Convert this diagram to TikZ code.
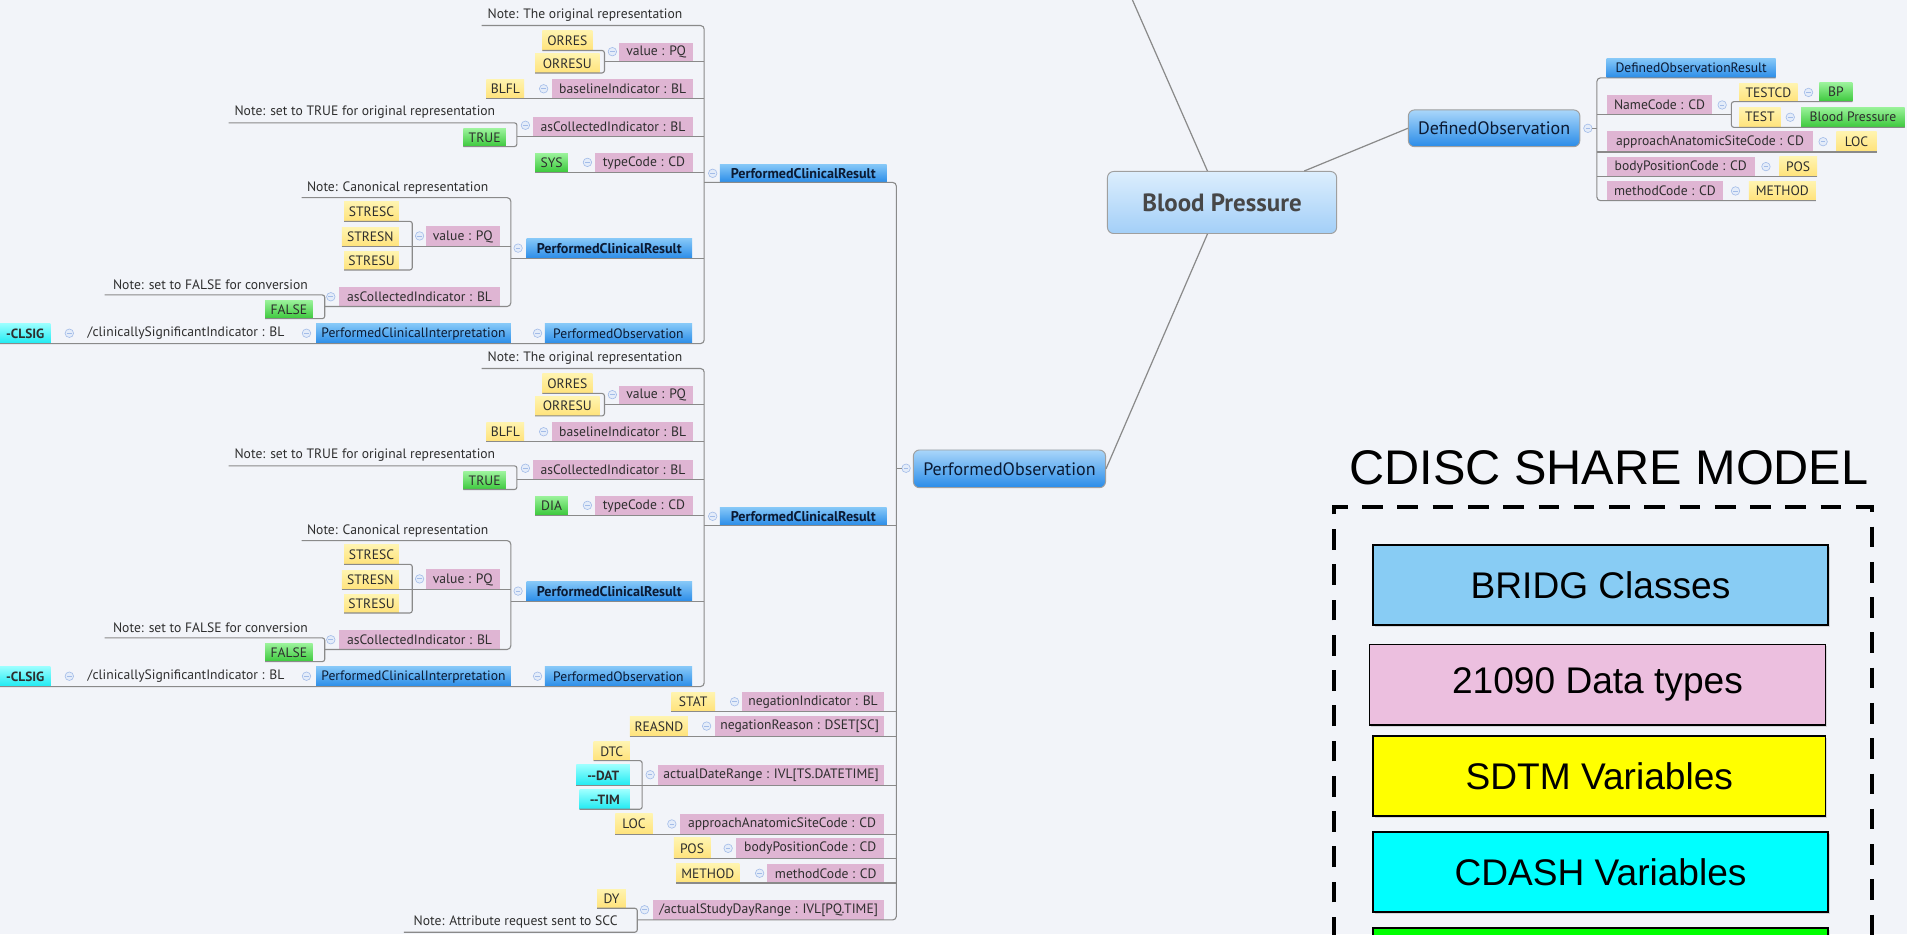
\documentclass[tikz,border=0pt]{standalone}
\usepackage{fontspec}
\setmainfont{PT Sans}
\newfontfamily\legfont{Liberation Sans}
\usetikzlibrary{shadows}
\definecolor{bgc}{HTML}{F2F4F9}
\definecolor{linec}{HTML}{8A8A8A}
\definecolor{txtc}{HTML}{2E2E2E}
\definecolor{navy}{HTML}{0B1A33}
\definecolor{pinkc}{HTML}{DFB5D3}
\definecolor{yel1}{HTML}{FFF4B0}
\definecolor{yel2}{HTML}{FFE27A}
\definecolor{grn1}{HTML}{9AF29A}
\definecolor{grn2}{HTML}{3CC83C}
\definecolor{cy1}{HTML}{9AFFFF}
\definecolor{cy2}{HTML}{1EEAF2}
\definecolor{blu1}{HTML}{86C8F8}
\definecolor{blu2}{HTML}{2A8CE8}
\definecolor{bigtop}{HTML}{A9D6FA}
\definecolor{bptop}{HTML}{DCEEFD}
\definecolor{bpbot}{HTML}{A3CFF8}
\definecolor{mcol}{HTML}{A3BCE8}
\definecolor{mfill}{HTML}{E4ECF9}
\definecolor{lgblue}{HTML}{88CCF4}
\definecolor{lgpink}{HTML}{ECBFDF}
\definecolor{lgyel}{HTML}{FFFF00}
\definecolor{lgcyan}{HTML}{00FFFF}
\definecolor{lggreen}{HTML}{00FF00}
\newcommand\tpbox[7]{%
  \pgfmathsetmacro\tpw{#5-#3}\pgfmathsetmacro\tph{#6-#4}%
  \pgfmathsetmacro\tpx{(#3+#5)/2}\pgfmathsetmacro\tpy{(#4+#6)/2}%
  \node[#1,minimum width=\tpw pt,minimum height=\tph pt] (#2) at (\tpx,\tpy) {#7};}
\newcommand\pcrgroup[3]{%
\begin{scope}[yshift=-#2pt]
\coordinate (#1-b1) at (579,0);
\coordinate (#1-b2) at (497,0);
\coordinate (#1-b3) at (425,0);
\coordinate (#1-b4) at (339,0);
\coordinate (#1-b5) at (420,0);
\coordinate (#1-b6) at (267,0);
\tpbox{notetxt}{#1-note1}{396}{4}{566}{21}{Note: The original representation}
\tpbox{yelbox}{#1-orres}{446}{25}{487}{41.5}{ORRES}
\tpbox{yelbox}{#1-orresu}{440}{44}{493}{60}{ORRESU}
\tpbox{pinkbox}{#1-val1}{509}{35}{570}{50.5}{value : PQ}
\node[mnode] (#1-mval1) at (503.5,42.5) {};
\tpbox{yelbox}{#1-blfl}{400}{65}{431}{81}{BLFL}
\node[mnode] (#1-mbase) at (447,73) {};
\tpbox{pinkbox}{#1-base}{454}{65}{570}{81}{baselineIndicator : BL}
\tpbox{notetxt}{#1-note2}{188}{84}{412}{101}{Note: set to TRUE for original representation}
\tpbox{grnbox}{#1-true}{381}{106}{416}{120.5}{TRUE}
\node[mnode] (#1-masc1) at (432,103) {};
\tpbox{pinkbox}{#1-asc1}{438}{96}{570}{112}{asCollectedIndicator : BL}
\tpbox{grnbox}{#1-sys}{440}{126}{467}{141.5}{#3}
\node[mnode] (#1-mtype) at (483,133.5) {};
\tpbox{pinkbox}{#1-type}{489}{126}{570}{141.5}{typeCode : CD}
\node[mnode] (#1-mpcr) at (586,142.5) {};
\tpbox{pcrbox}{#1-pcr}{592}{135}{729}{150}{PerformedClinicalResult}
\tpbox{notetxt}{#1-note3}{248}{146}{406}{162.5}{Note: Canonical representation}
\tpbox{yelbox}{#1-stresc}{283}{166}{328}{182}{STRESC}
\tpbox{yelbox}{#1-stresn}{281}{187}{328}{203}{STRESN}
\tpbox{yelbox}{#1-stresu}{283}{207}{328}{222}{STRESU}
\node[mnode] (#1-mval2) at (345,194) {};
\tpbox{pinkbox}{#1-val2}{350}{186}{411}{203}{value : PQ}
\node[mnode] (#1-mpcr2) at (426,204) {};
\tpbox{pcrbox}{#1-pcr2}{433}{196}{569}{212.5}{PerformedClinicalResult}
\tpbox{notetxt}{#1-note4}{86}{226}{260}{242.5}{Note: set to FALSE for conversion}
\tpbox{grnbox}{#1-false}{218}{247}{257}{262}{FALSE}
\node[mnode] (#1-masc2) at (272,244) {};
\tpbox{pinkbox}{#1-asc2}{279}{236}{411}{252}{asCollectedIndicator : BL}
\tpbox{cyanbox}{#1-clsig}{0}{266}{41.5}{282.5}{-CLSIG}
\node[mnode] (#1-mclin) at (57,274) {};
\tpbox{notetxt}{#1-clin}{66}{266}{240}{282.5}{/clinicallySignificantIndicator : BL}
\node[mnode] (#1-mpci) at (252,274) {};
\tpbox{bluebox}{#1-pci}{260}{266}{420}{282.5}{PerformedClinicalInterpretation}
\node[mnode] (#1-mpo) at (442,274) {};
\tpbox{bluebox}{#1-po}{448}{266}{569}{282.5}{PerformedObservation}
\draw[conn,rounded corners=3pt] (#1-note1.south west) -- (#1-note1.south west -| #1-b1) -- (#1-po.south west -| #1-b1) -- (#1-clsig.south west);
\draw[conn,rounded corners=2pt] (#1-orres.south west) -- (#1-orres.south west -| #1-b2) -- (#1-orresu.south west -| #1-b2) -- (#1-orresu.south west);
\draw[conn] (#1-val1.south west -| #1-b2) -- (#1-val1.south west -| #1-b1);
\draw[conn] (#1-blfl.south west) -- (#1-blfl.south west -| #1-b1);
\draw[conn,rounded corners=2pt] (#1-note2.south west) -- (#1-note2.south west -| #1-b3) -- (#1-true.south west -| #1-b3) -- (#1-true.south west);
\draw[conn] (#1-asc1.south west -| #1-b3) -- (#1-asc1.south west -| #1-b1);
\draw[conn] (#1-sys.south west) -- (#1-sys.south west -| #1-b1);
\draw[conn] (#1-pcr2.south west -| #1-b5) -- (#1-pcr2.south west -| #1-b1);
\draw[conn,rounded corners=3pt] (#1-note3.south west) -- (#1-note3.south west -| #1-b5) -- (#1-asc2.south west -| #1-b5) -- (#1-asc2.south west -| #1-b6);
\draw[conn,rounded corners=2pt] (#1-stresc.south west) -- (#1-stresc.south west -| #1-b4) -- (#1-stresu.south west -| #1-b4) -- (#1-stresu.south west);
\draw[conn] (#1-stresn.south west) -- (#1-stresn.south west -| #1-b5);
\draw[conn,rounded corners=2pt] (#1-note4.south west) -- (#1-note4.south west -| #1-b6) -- (#1-false.south west -| #1-b6) -- (#1-false.south west);
\end{scope}}
\begin{document}
\begin{tikzpicture}[x=1pt,y=-1pt,
  conn/.style={draw=linec,line width=0.9pt},
  mbox/.style={inner sep=0pt,outer sep=0pt,font=\fontsize{11.2}{12}\selectfont,text=txtc},
  pinkbox/.style={mbox,fill=pinkc},
  yelbox/.style={mbox,top color=yel1,bottom color=yel2},
  grnbox/.style={mbox,top color=grn1,bottom color=grn2},
  cyanbox/.style={mbox,top color=cy1,bottom color=cy2,font=\fontsize{11}{12}\selectfont\bfseries},
  bluebox/.style={mbox,top color=blu1,bottom color=blu2,text=navy},
  pcrbox/.style={bluebox,font=\fontsize{11.6}{12}\selectfont\bfseries},
  notetxt/.style={mbox},
  mnode/.style={circle,draw=mcol,fill=mfill,line width=0.5pt,minimum size=7pt,inner sep=0pt,
    path picture={\draw[mcol,line width=0.7pt] ([xshift=1.6pt]path picture bounding box.west) -- ([xshift=-1.6pt]path picture bounding box.east);}},
  bigbox/.style={rounded corners=5pt,draw=gray!75,line width=0.8pt,inner sep=0pt},
  legbox/.style={draw=black,line width=1.2pt,inner sep=0pt,font=\legfont\fontsize{30.5}{34}\selectfont,
    drop shadow={shadow xshift=1.5pt,shadow yshift=-1.5pt,opacity=0.25}}
]
\useasboundingbox[fill=bgc] (0,0) rectangle (1568,768);

% ---------- centre ----------
\tpbox{bigbox,top color=bptop,bottom color=bpbot,text=black!72,font=\fontsize{20.5}{23}\selectfont\bfseries}{bp}{910.6}{141}{1099}{192}{Blood Pressure}
\tpbox{bigbox,top color=bigtop,bottom color=blu2,text=navy,font=\fontsize{14.8}{16}\selectfont}{do}{1158}{90.4}{1299}{120.6}{DefinedObservation}
\tpbox{bigbox,top color=bigtop,bottom color=blu2,text=navy,font=\fontsize{14.8}{16}\selectfont}{mpo}{751}{370}{909}{401}{PerformedObservation}
\coordinate (topend) at (925,-14);
\draw[conn,line width=1pt] ([xshift=-12pt]bp.north) -- (topend);
\draw[conn,line width=1pt] ([xshift=-27pt]bp.north east) -- (do.west);
\draw[conn,line width=1pt] ([xshift=-12pt]bp.south) -- (mpo.east);

% ---------- left groups ----------
\pcrgroup{a}{0}{SYS}
\pcrgroup{b}{282}{DIA}

\coordinate (bm) at (737,0);
\coordinate (b7) at (528,0);
\coordinate (b8) at (524,0);
\node[mnode] (mmpo) at (745,385) {};
\draw[conn] (mmpo.west) -- (mmpo.west -| bm);

\tpbox{yelbox}{stat}{552}{569}{588}{585}{STAT}
\node[mnode] (mneg) at (604,577) {};
\tpbox{pinkbox}{neg}{610}{569}{727}{585}{negationIndicator : BL}
\tpbox{yelbox}{reasnd}{518}{589}{565.5}{605.7}{REASND}
\node[mnode] (mnegr) at (581,597) {};
\tpbox{pinkbox}{negr}{588}{589}{727}{605.7}{negationReason : DSET[SC]}
\tpbox{yelbox}{dtc}{488}{610}{518}{625.4}{DTC}
\tpbox{cyanbox}{dat}{474}{629}{518}{646}{-{}-DAT}
\tpbox{cyanbox}{tim}{476.6}{649.5}{518}{665.4}{-{}-TIM}
\node[mnode] (madr) at (534.6,637) {};
\tpbox{pinkbox}{adr}{541}{629}{727}{646}{actualDateRange : IVL[TS.DATETIME]}
\tpbox{yelbox}{loc}{506}{669}{536.6}{686}{LOC}
\node[mnode] (maasc) at (552.4,677.5) {};
\tpbox{pinkbox}{aasc}{559}{669}{727}{686}{approachAnatomicSiteCode : CD}
\tpbox{yelbox}{pos}{554}{689}{584}{706}{POS}
\node[mnode] (mbpc) at (598.7,697.5) {};
\tpbox{pinkbox}{bpc}{605.5}{689}{727}{706}{bodyPositionCode : CD}
\tpbox{yelbox}{meth}{556}{710}{608}{726}{METHOD}
\node[mnode] (mmc) at (624.6,718) {};
\tpbox{pinkbox}{mc}{631}{710}{727}{726}{methodCode : CD}
\tpbox{yelbox}{dy}{491}{731}{514.7}{746.8}{DY}
\node[mnode] (masdr) at (530,748) {};
\tpbox{pinkbox}{asdr}{537}{740}{727}{756.4}{/actualStudyDayRange : IVL[PQ.TIME]}
\tpbox{notetxt}{note5}{332}{749}{516}{766.5}{Note: Attribute request sent to SCC}

\draw[conn,rounded corners=3pt] (a-pcr.south west -| a-b1) -- (a-pcr.south west -| bm) -- (asdr.south west -| bm) -- (asdr.south west -| b8);
\draw[conn] (b-pcr.south west -| b-b1) -- (b-pcr.south west -| bm);
\draw[conn] (stat.south west) -- (stat.south west -| bm);
\draw[conn] (reasnd.south west) -- (reasnd.south west -| bm);
\draw[conn] (dat.south west) -- (dat.south west -| bm);
\draw[conn,rounded corners=2pt] (dtc.south west) -- (dtc.south west -| b7) -- (tim.south west -| b7) -- (tim.south west);
\draw[conn] (loc.south west) -- (loc.south west -| bm);
\draw[conn] (pos.south west) -- (pos.south west -| bm);
\draw[conn] (meth.south west) -- (meth.south west -| bm);
\draw[conn,rounded corners=2pt] (dy.south west) -- (dy.south west -| b8) -- (note5.south west -| b8) -- (note5.south west);

% ---------- right side ----------
\coordinate (br) at (1313,0);
\coordinate (brn) at (1423.6,0);
\node[mnode] (mdo) at (1305.6,105.5) {};
\draw[conn] (mdo.east) -- (mdo.east -| br);
\tpbox{bluebox}{dor}{1321}{48}{1460}{64}{DefinedObservationResult}
\tpbox{pinkbox}{nc}{1321}{78}{1408}{94.5}{NameCode : CD}
\node[mnode] (mnc) at (1416,86.3) {};
\tpbox{yelbox}{testcd}{1430}{68.5}{1478}{83.6}{TESTCD}
\node[mnode] (mtestcd) at (1487,76) {};
\tpbox{grnbox}{bpv}{1496}{68}{1523}{83.6}{BP}
\tpbox{yelbox}{test}{1430}{88}{1464}{104.7}{TEST}
\node[mnode] (mtest) at (1472,96.4) {};
\tpbox{grnbox}{bpg}{1481}{88}{1566}{104.7}{Blood Pressure}
\tpbox{pinkbox}{aasc2}{1321}{108}{1491}{125}{approachAnatomicSiteCode : CD}
\node[mnode] (maasc2) at (1499,116.5) {};
\tpbox{yelbox}{loc2}{1510}{108}{1543}{125}{LOC}
\tpbox{pinkbox}{bpc2}{1321}{129}{1443}{145}{bodyPositionCode : CD}
\node[mnode] (mbpc2) at (1452,137) {};
\tpbox{yelbox}{pos2}{1463}{129}{1494}{145}{POS}
\tpbox{pinkbox}{mc2}{1321}{149}{1417}{165}{methodCode : CD}
\node[mnode] (mmc2) at (1427,157) {};
\tpbox{yelbox}{meth2}{1438}{149}{1493}{165}{METHOD}
\draw[conn,rounded corners=3pt] (dor.south east) -- (dor.south east -| br) -- (meth2.south east -| br) -- (meth2.south east);
\draw[conn] (nc.south west -| br) -- (nc.south west -| brn);
\draw[conn,rounded corners=2pt] (bpv.south east) -- (bpv.south east -| brn) -- (bpg.south east -| brn) -- (bpg.south east);
\draw[conn] (aasc2.south west -| br) -- (loc2.south east);
\draw[conn] (bpc2.south west -| br) -- (pos2.south east);

% ---------- legend ----------
\node[font=\legfont\fontsize{40}{46}\selectfont,inner sep=0pt] (title) at (1323,385) {CDISC SHARE MODEL};
\draw[line width=3.3pt,dash pattern=on 17pt off 12pt,black] (1097,800) -- (1097,417) -- (1539,417) -- (1539,800);
\tpbox{legbox,fill=lgblue}{lbridg}{1129}{448}{1503}{514}{BRIDG Classes}
\tpbox{legbox,fill=lgpink}{ldt}{1126}{530}{1501}{596}{21090 Data types}
\tpbox{legbox,fill=lgyel}{lsdtm}{1129}{605}{1501}{671}{SDTM Variables}
\tpbox{legbox,fill=lgcyan}{lcdash}{1129}{684}{1503}{750}{CDASH Variables}
\tpbox{legbox,fill=lggreen}{lgreen}{1129}{763}{1503}{829}{}
\end{tikzpicture}
\end{document}
